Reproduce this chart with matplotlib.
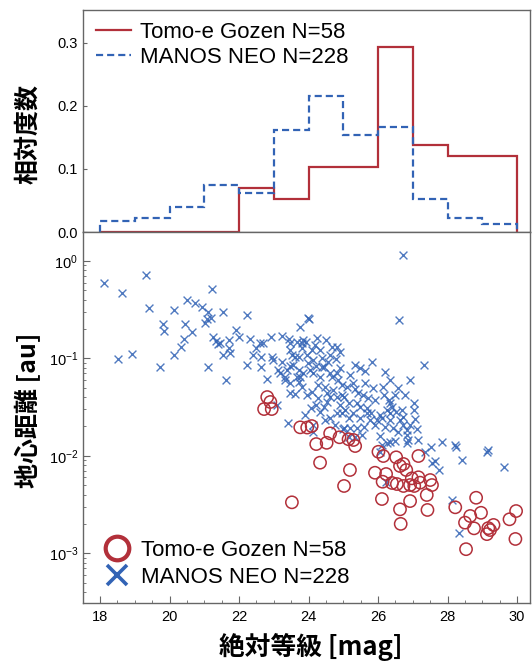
import numpy as np
import matplotlib
matplotlib.use("Agg")
import matplotlib.pyplot as plt
from matplotlib.lines import Line2D
from matplotlib.ticker import MultipleLocator, LogLocator, NullFormatter

plt.rcParams['font.family'] = ['Liberation Sans', 'DejaVu Sans']
plt.rcParams['mathtext.fontset'] = 'custom'
plt.rcParams['mathtext.rm'] = 'Liberation Sans'
plt.rcParams['mathtext.it'] = 'Liberation Sans:italic'

# ---------------- data ----------------
bin_edges = [18, 19, 20, 21, 22, 23, 24, 25, 26, 27, 28, 29, 30]
tomoe_hist = [0, 0, 0, 0, 0.069, 0.0517, 0.1034, 0.1034, 0.293, 0.138, 0.1207, 0.1207]
manos_hist = [0.0175, 0.0219, 0.0395, 0.0746, 0.0614, 0.162, 0.215, 0.1535, 0.1667, 0.0526, 0.0219, 0.0132]

tomoe_mag = [22.72, 22.81, 22.90, 22.94, 23.52, 23.76, 23.96, 24.09, 24.22, 24.52, 24.62, 24.89, 24.33,
             25.15, 25.34, 25.19, 25.02, 25.91, 26.01, 26.15, 26.52, 26.63, 26.73, 26.23, 26.13, 26.54,
             26.73, 26.92, 26.97, 26.11, 26.92, 26.63, 26.65, 27.16, 27.16, 27.21, 27.50, 27.55, 27.40,
             27.42, 28.82, 28.22, 28.65, 28.50, 28.96, 28.76, 28.53, 29.13, 29.22, 29.32, 29.78, 29.97,
             29.95, 29.17, 25.29, 26.81, 26.40, 27.04]
tomoe_dist = [0.0302, 0.0401, 0.0357, 0.0302, 0.00333, 0.0196, 0.0195, 0.0202, 0.0132, 0.0136, 0.0170,
              0.0155, 0.0085, 0.0148, 0.0126, 0.00715, 0.0049, 0.0067, 0.0110, 0.00995, 0.00965, 0.00786,
              0.00824, 0.0065, 0.00542, 0.00513, 0.0049, 0.00501, 0.00587, 0.0036, 0.00343, 0.00282,
              0.0020, 0.00995, 0.00602, 0.0053, 0.00564, 0.00501, 0.00396, 0.00278, 0.00371, 0.00296,
              0.00241, 0.00206, 0.0026, 0.0018, 0.0011, 0.00157, 0.00173, 0.00195, 0.00223, 0.00271,
              0.0014, 0.00181, 0.01453, 0.00715, 0.00526, 0.0049]

manos_mag = [
    18.12, 18.62, 18.53, 18.92,
    19.32, 19.42, 19.73, 19.82, 19.84,
    20.13, 20.13, 20.32, 20.42, 20.64, 20.45, 20.51, 20.73, 20.93,
    21.12, 21.07, 21.02, 21.23, 21.53, 21.12, 21.26, 21.34, 21.40, 21.72, 21.72, 21.53, 21.74, 21.45,
    21.63, 21.91, 21.19,
    22.22, 22.01, 22.32, 22.60, 22.70, 22.91, 22.22, 22.41, 22.62, 22.62, 22.81, 22.94, 22.99, 22.49,
    23.10, 23.42, 23.23, 23.45, 23.66, 23.74, 23.80, 23.93, 23.47, 23.47, 23.52, 23.71, 23.80, 23.13,
    23.37, 23.71, 23.32, 23.23, 23.99, 23.76, 23.95, 23.90, 23.99, 23.85, 23.61, 23.95, 23.47, 23.56,
    23.18, 23.66, 23.85, 23.32, 23.47, 23.71, 23.80, 23.47, 23.61,
    24.02, 24.14, 24.67, 24.83, 24.62, 24.79, 24.38, 24.04, 24.43, 24.91, 24.14, 24.33, 24.67, 24.81,
    24.47, 24.71, 24.81, 24.62, 24.96, 24.62, 24.52, 24.43, 24.91, 24.81, 24.14, 24.14, 24.96, 24.98,
    24.22, 24.19, 24.33, 24.27, 24.10, 24.27, 24.53, 24.22, 24.33, 24.62, 24.47, 24.76, 24.07, 24.85,
    24.39, 24.56, 24.96, 24.10, 24.24, 24.50, 24.91,
    25.82, 25.34, 25.48, 25.63, 25.29, 25.34, 25.85, 25.10, 25.02, 25.15, 25.39, 25.48, 25.67, 25.79,
    25.96, 25.02, 25.19, 25.39, 25.58, 25.91, 25.29, 25.15, 25.48, 25.77, 25.53, 25.34, 25.15, 25.67,
    25.19, 25.57, 25.71, 25.05, 25.91, 25.42, 25.63,
    26.73, 26.61, 26.92, 26.33, 26.15, 26.30, 26.39, 26.35, 26.68, 26.73, 26.20, 26.44, 26.73, 26.35,
    26.25, 26.35, 26.63, 26.11, 26.35, 26.49, 26.11, 26.06, 26.83, 26.87, 26.25, 26.83, 26.23, 26.06,
    26.83, 26.49, 26.58, 26.17, 26.78, 26.06, 26.58, 26.92, 26.20, 26.52,
    27.32, 27.06, 27.11, 27.02, 27.52, 27.83, 27.55, 27.64, 27.74, 27.16, 27.04, 27.35,
    28.22, 28.24, 28.41, 28.12, 28.34,
    29.13, 29.63, 29.16]
manos_dist = [
    0.590, 0.4725, 0.0986, 0.111,
    0.723, 0.3315, 0.081, 0.2255, 0.1925,
    0.314, 0.1084, 0.1318, 0.157, 0.188, 0.2255, 0.398, 0.368, 0.3395,
    0.3016, 0.252, 0.2293, 0.512, 0.3016, 0.0822, 0.1646, 0.152, 0.1405, 0.1545, 0.128, 0.1084, 0.1128,
    0.145, 0.060, 0.1957, 0.258,
    0.279, 0.167, 0.157, 0.145, 0.145, 0.1646, 0.0855, 0.1084, 0.1041, 0.0822, 0.061, 0.1041, 0.0963, 0.128,
    0.0332, 0.0219, 0.1698, 0.157, 0.1484, 0.2116, 0.145, 0.1484, 0.1429, 0.122, 0.1084, 0.1041, 0.127,
    0.076, 0.076, 0.076, 0.0649, 0.0925, 0.0891, 0.0649, 0.0421, 0.0262, 0.258, 0.1545, 0.1041, 0.1084,
    0.0835, 0.0855, 0.0703, 0.0649, 0.0703, 0.060, 0.0555, 0.0576, 0.0512, 0.0438, 0.0431,
    0.2557, 0.0963, 0.1318, 0.130, 0.1084, 0.0979, 0.081, 0.076, 0.0822, 0.0791, 0.0703, 0.0649, 0.0649,
    0.0703, 0.0512, 0.0474, 0.0404, 0.0703, 0.0533, 0.0404, 0.0359, 0.0319, 0.0332, 0.0273, 0.0207,
    0.0177, 0.0273, 0.0187, 0.0835, 0.1373, 0.122, 0.0533, 0.0452, 0.0392, 0.0441, 0.0332, 0.0282,
    0.0245, 0.0233, 0.0207, 0.0307, 0.060, 0.101, 0.0918, 0.0421, 0.122, 0.162, 0.1545, 0.1163,
    0.0925, 0.0855, 0.0791, 0.0747, 0.0555, 0.0485, 0.0493, 0.0512, 0.0404, 0.0346, 0.0346, 0.0319,
    0.0307, 0.0277, 0.0233, 0.0192, 0.0192, 0.0192, 0.0199, 0.0207, 0.0273, 0.0243, 0.0243, 0.0233,
    0.01635, 0.0155, 0.0155, 0.0273, 0.0675, 0.0421, 0.0392, 0.0295, 0.0374, 0.0441, 0.0555,
    1.152, 0.248, 0.060, 0.060, 0.0512, 0.0374, 0.0319, 0.0273, 0.0295, 0.0252, 0.0199, 0.0192, 0.0207,
    0.0346, 0.0295, 0.0233, 0.0233, 0.0243, 0.01396, 0.0143, 0.0129, 0.01102, 0.01635, 0.01453, 0.01343,
    0.01363, 0.00542, 0.0262, 0.0184, 0.0421, 0.0497, 0.0421, 0.0421, 0.0160, 0.0176, 0.0207, 0.0725, 0.028,
    0.0855, 0.0239, 0.0188, 0.0346, 0.01223, 0.01396, 0.0085, 0.0089, 0.00715, 0.01453, 0.0295, 0.0109,
    0.0129, 0.01223, 0.00906, 0.00352, 0.00162,
    0.01102, 0.00762, 0.0115]

label_tomoe = "Tomo-e Gozen N=58"
label_manos = "MANOS NEO N=228"
x_ticks = [18, 20, 22, 24, 26, 28, 30]
hist_yticks = [0.0, 0.1, 0.2, 0.3]

# ---------------- style ----------------
RED = '#b2303a'
BLUE = '#3263b5'
SPINE = '#666666'
CJK = ['Noto Sans CJK JP', 'DejaVu Sans']

W, H = 532, 662
fig = plt.figure(figsize=(W / 100, H / 100), dpi=100)
L, R = 83, 530
ax1 = fig.add_axes([L / W, 1 - 232 / H, (R - L) / W, 222 / H])
ax2 = fig.add_axes([L / W, 1 - 603.3 / H, (R - L) / W, 371.3 / H], sharex=ax1)

for ax in (ax1, ax2):
    for s in ax.spines.values():
        s.set_color(SPINE)
        s.set_linewidth(1.0)

# ---- histogram ----
ax1.stairs(tomoe_hist, bin_edges, color=RED, lw=1.6, label=label_tomoe, baseline=0)
ax1.stairs(manos_hist, bin_edges, color=BLUE, lw=1.6, ls=(0, (3.2, 1.8)), label=label_manos, baseline=0)
ax1.set_ylim(0, 0.352)
ax1.set_yticks(hist_yticks)
ax1.set_yticklabels([f"{v:.1f}" for v in hist_yticks])
ax1.tick_params(axis='y', direction='in', length=3, width=0.8, color=SPINE, labelsize=10.5, pad=4)
ax1.tick_params(axis='x', length=0, labelbottom=False)
ax1.legend(loc='upper left', frameon=False, fontsize=16, handlelength=1.55,
           handletextpad=0.4, labelspacing=0.18, borderaxespad=0.0,
           bbox_to_anchor=(0.01, 0.985))

# ---- scatter ----
ax2.scatter(manos_mag, manos_dist, marker='x', s=32, c=BLUE, linewidths=1.0, alpha=0.85, zorder=2)
ax2.scatter(tomoe_mag, tomoe_dist, marker='o', s=78, facecolors='none', edgecolors=RED,
            linewidths=1.1, zorder=3)
ax2.set_yscale('log')
ax2.set_ylim(3.06e-4, 1.985)
ax2.set_xlim(17.51, 30.37)
ax2.set_xticks(x_ticks)
ax2.set_xticklabels([str(v) for v in x_ticks])
ax2.xaxis.set_minor_locator(MultipleLocator(0.5))
ax2.yaxis.set_major_locator(LogLocator(base=10, numticks=10))
ax2.yaxis.set_minor_locator(LogLocator(base=10, subs=np.arange(2, 10), numticks=10))
ax2.yaxis.set_minor_formatter(NullFormatter())
ax2.tick_params(which='major', direction='in', length=5, width=0.8, color=SPINE, labelsize=10.5)
ax2.tick_params(which='minor', direction='in', length=2.5, width=0.6, color=SPINE)
ax2.tick_params(axis='y', which='both', right=False)
ax2.tick_params(axis='x', which='both', top=False, pad=5)

handles = [Line2D([], [], ls='none', marker='o', markersize=17, mfc='none', mec=RED, mew=3.0),
           Line2D([], [], ls='none', marker='x', markersize=14, mec=BLUE, mew=2.6)]
ax2.legend(handles, [label_tomoe, label_manos], loc='lower left', frameon=False, fontsize=16,
           handlelength=1.2, handletextpad=0.5, labelspacing=0.27, borderaxespad=0.0,
           bbox_to_anchor=(0.026, 0.017))

# ---- axis labels ----
fig.text(28 / W, 1 - 134 / H, '相対度数', rotation=90, ha='center', va='center',
         fontsize=18, fontweight='bold', family=CJK)
fig.text(28 / W, 1 - 410 / H, '地心距離 [au]', rotation=90, ha='center', va='center',
         fontsize=18, fontweight='bold', family=CJK)
fig.text(311 / W, 1 - 647 / H, '絶対等級 [mag]', ha='center', va='center',
         fontsize=18.5, fontweight='bold', family=CJK)

fig.savefig('out.png', dpi=100)
